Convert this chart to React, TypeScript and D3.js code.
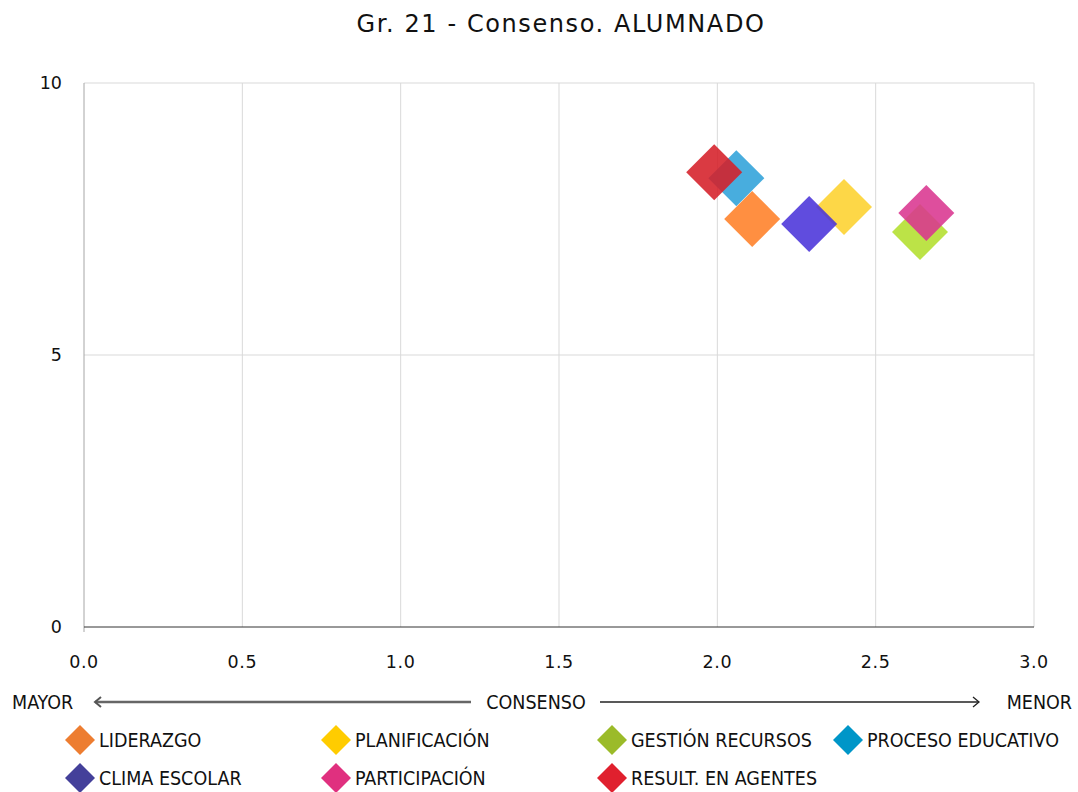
import React, { useEffect, useRef } from "react";
import * as d3 from "d3";

const categories = [
  "LIDERAZGO",
  "PLANIFICACIÓN",
  "GESTIÓN RECURSOS",
  "PROCESO EDUCATIVO",
  "CLIMA ESCOLAR",
  "PARTICIPACIÓN",
  "RESULT. EN AGENTES",
];
const consenso = [2.11, 2.4, 2.64, 2.06, 2.29, 2.66, 1.99];
const valoracion = [7.5, 7.72, 7.26, 8.25, 7.41, 7.61, 8.36];
const markColors = ["#FF8027", "#FDD22E", "#B3DF2E", "#2FA2DA", "#4A33DA", "#D9358F", "#D51F28"];
const legendColors = ["#ED7D31", "#FFCC00", "#9BBB29", "#0096C8", "#44409A", "#E0307F", "#E0202E"];
const xTicks = [0, 0.5, 1, 1.5, 2, 2.5, 3];
const yTicks = [0, 5, 10];
// draw order seen in the picture (later = on top)
const drawOrder = [1, 2, 3, 0, 4, 5, 6];

const W = 1078;
const H = 792;

const App: React.FC = () => {
  const ref = useRef<SVGSVGElement | null>(null);

  useEffect(() => {
    const svg = d3.select(ref.current);
    svg.selectAll("*").remove();

    const x = d3.scaleLinear().domain([0, 3]).range([84, 1034]);
    const y = d3.scaleLinear().domain([0, 10]).range([627, 83]);

    const tickFont = "'DejaVu Sans', Verdana, sans-serif";

    svg
      .append("text")
      .attr("x", 561)
      .attr("y", 32)
      .attr("text-anchor", "middle")
      .attr("font-family", tickFont)
      .attr("font-size", 24)
      .attr("letter-spacing", 1.6)
      .attr("fill", "#111")
      .text("Gr. 21 - Consenso. ALUMNADO");

    // grid
    svg
      .append("g")
      .selectAll("line")
      .data(xTicks.slice(1))
      .enter()
      .append("line")
      .attr("x1", d => x(d))
      .attr("x2", d => x(d))
      .attr("y1", y(10))
      .attr("y2", y(0))
      .attr("stroke", "#d9d9d9");
    svg
      .append("g")
      .selectAll("line")
      .data(yTicks.slice(1))
      .enter()
      .append("line")
      .attr("x1", x(0))
      .attr("x2", x(3))
      .attr("y1", d => y(d))
      .attr("y2", d => y(d))
      .attr("stroke", "#d9d9d9");

    // axes
    svg
      .append("line")
      .attr("x1", x(0))
      .attr("x2", x(0))
      .attr("y1", y(10))
      .attr("y2", y(0) + 5)
      .attr("stroke", "#a6a6a6");
    svg
      .append("line")
      .attr("x1", x(0))
      .attr("x2", x(3))
      .attr("y1", y(0))
      .attr("y2", y(0))
      .attr("stroke", "#333");

    svg
      .append("g")
      .selectAll("text")
      .data(xTicks)
      .enter()
      .append("text")
      .attr("x", d => x(d))
      .attr("y", 668)
      .attr("text-anchor", "middle")
      .attr("font-family", tickFont)
      .attr("font-size", 17.5)
      .attr("letter-spacing", 0.6)
      .attr("fill", "#111")
      .text(d => d3.format(".1f")(d));
    svg
      .append("g")
      .selectAll("text")
      .data(yTicks)
      .enter()
      .append("text")
      .attr("x", 62)
      .attr("y", d => y(d) + 6)
      .attr("text-anchor", "end")
      .attr("font-family", tickFont)
      .attr("font-size", 17.5)
      .attr("fill", "#111")
      .text(d => String(d));

    // points
    const diamond = (cx: number, cy: number, r: number) =>
      `M${cx},${cy - r}L${cx + r},${cy}L${cx},${cy + r}L${cx - r},${cy}Z`;

    svg
      .append("g")
      .selectAll("path")
      .data(drawOrder)
      .enter()
      .append("path")
      .attr("d", i => diamond(x(consenso[i]), y(valoracion[i]), 28))
      .attr("fill", i => markColors[i])
      .attr("fill-opacity", 0.88);

    // consenso arrow
    const lblFont = "'Liberation Sans Narrow', 'DejaVu Sans Condensed', 'Open Sans', sans-serif";
    const arrowY = 702;
    const addLabel = (tx: number, t: string, anchor: string) =>
      svg
        .append("text")
        .attr("x", tx)
        .attr("y", arrowY + 7)
        .attr("text-anchor", anchor)
        .attr("font-family", lblFont)
        .attr("font-size", 19.5)
        .attr("fill", "#111")
        .text(t);
    addLabel(12, "MAYOR", "start");
    addLabel(536, "CONSENSO", "middle");
    addLabel(1072, "MENOR", "end");

    svg
      .append("line")
      .attr("x1", 95)
      .attr("x2", 471)
      .attr("y1", arrowY)
      .attr("y2", arrowY)
      .attr("stroke", "#666")
      .attr("stroke-width", 2.4);
    svg
      .append("path")
      .attr("d", `M101,${arrowY - 5}L95,${arrowY}L101,${arrowY + 5}`)
      .attr("fill", "none")
      .attr("stroke", "#555")
      .attr("stroke-width", 2);
    svg
      .append("line")
      .attr("x1", 600)
      .attr("x2", 979)
      .attr("y1", arrowY)
      .attr("y2", arrowY)
      .attr("stroke", "#222")
      .attr("stroke-width", 1.3);
    svg
      .append("path")
      .attr("d", `M973,${arrowY - 5}L979,${arrowY}L973,${arrowY + 5}`)
      .attr("fill", "none")
      .attr("stroke", "#222")
      .attr("stroke-width", 1.3);

    // legend
    const legX = [80, 336, 612, 848];
    const legY = [740, 778];
    const leg = svg
      .append("g")
      .selectAll("g")
      .data(categories)
      .enter()
      .append("g")
      .attr("transform", (_, i) => `translate(${legX[i % 4]},${legY[Math.floor(i / 4)]})`);
    leg
      .append("path")
      .attr("d", diamond(0, 0, 15))
      .attr("fill", (_, i) => legendColors[i]);
    leg
      .append("text")
      .attr("x", 19)
      .attr("y", 7)
      .attr("font-family", lblFont)
      .attr("font-size", 19.5)
      .attr("fill", "#111")
      .text(d => d);
  }, []);

  return <svg ref={ref} width={W} height={H} style={{ position: "absolute", left: 0, top: 0 }}></svg>;
};

export default App;
